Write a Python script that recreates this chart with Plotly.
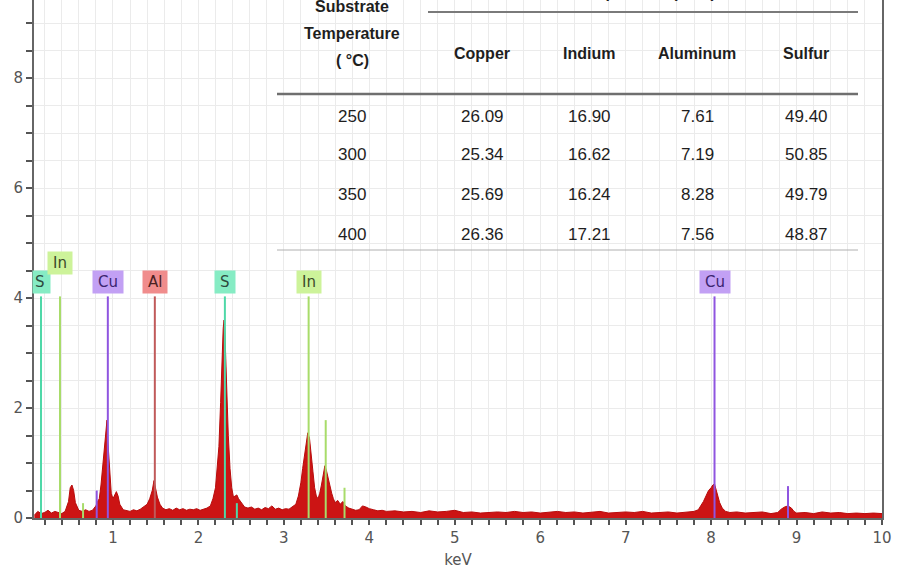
import plotly.graph_objects as go

# ---------------- data ----------------
energy_kev = [
    0.08, 0.12, 0.16, 0.20, 0.24, 0.28, 0.32, 0.36, 0.40, 0.44, 0.48, 0.50, 0.52, 0.54, 0.56,
    0.60, 0.64, 0.68, 0.72, 0.76, 0.80, 0.82, 0.84, 0.86, 0.88, 0.90, 0.92, 0.93, 0.94, 0.96,
    0.98, 1.00, 1.02, 1.04, 1.06, 1.08, 1.12, 1.16, 1.20, 1.24, 1.28, 1.32, 1.36, 1.40, 1.43,
    1.46, 1.48, 1.50, 1.52, 1.55, 1.58, 1.62, 1.66, 1.70, 1.74, 1.78, 1.82, 1.86, 1.90, 1.94,
    1.98, 2.02, 2.06, 2.10, 2.14, 2.17, 2.20, 2.22, 2.24, 2.26, 2.27, 2.28, 2.29, 2.30, 2.31,
    2.32, 2.33, 2.34, 2.35, 2.37, 2.39, 2.41, 2.43, 2.45, 2.47, 2.50, 2.54, 2.58, 2.62, 2.66,
    2.70, 2.74, 2.78, 2.82, 2.86, 2.90, 2.94, 2.98, 3.02, 3.06, 3.10, 3.14, 3.17, 3.20, 3.22,
    3.24, 3.26, 3.28, 3.30, 3.32, 3.34, 3.36, 3.38, 3.40, 3.42, 3.44, 3.46, 3.48, 3.50, 3.52,
    3.54, 3.56, 3.58, 3.60, 3.63, 3.66, 3.69, 3.72, 3.76, 3.80, 3.84, 3.88, 3.92, 3.96, 4.00,
    4.05, 4.10, 4.15, 4.20, 4.30, 4.40, 4.50, 4.60, 4.70, 4.80, 4.90, 5.00, 5.10, 5.20, 5.30,
    5.40, 5.50, 5.60, 5.70, 5.80, 5.90, 6.00, 6.10, 6.20, 6.30, 6.40, 6.50, 6.60, 6.70, 6.80,
    6.90, 7.00, 7.10, 7.20, 7.30, 7.40, 7.50, 7.60, 7.70, 7.80, 7.85, 7.88, 7.91, 7.94, 7.97,
    8.00, 8.02, 8.04, 8.06, 8.08, 8.10, 8.13, 8.17, 8.22, 8.30, 8.40, 8.50, 8.60, 8.70, 8.78,
    8.82, 8.86, 8.90, 8.94, 8.97, 9.00, 9.10, 9.20, 9.30, 9.40, 9.50, 9.60, 9.70, 9.80, 9.90,
    10.00,
]
counts = [
    0.05, 0.12, 0.08, 0.10, 0.14, 0.09, 0.12, 0.10, 0.08, 0.12, 0.30, 0.55, 0.60, 0.50, 0.28,
    0.14, 0.12, 0.15, 0.12, 0.14, 0.22, 0.30, 0.35, 0.60, 0.95, 1.25, 1.55, 1.78, 1.40, 0.90,
    0.45, 0.35, 0.42, 0.48, 0.40, 0.25, 0.15, 0.14, 0.12, 0.15, 0.13, 0.16, 0.20, 0.25, 0.35,
    0.50, 0.68, 0.55, 0.38, 0.25, 0.18, 0.15, 0.17, 0.14, 0.18, 0.15, 0.17, 0.14, 0.16, 0.15,
    0.17, 0.14, 0.16, 0.18, 0.22, 0.35, 0.55, 0.90, 1.30, 2.10, 2.60, 3.10, 3.45, 3.60, 3.40,
    2.90, 2.40, 2.00, 1.50, 0.90, 0.55, 0.38, 0.40, 0.42, 0.35, 0.28, 0.20, 0.18, 0.20, 0.16,
    0.18, 0.15, 0.19, 0.17, 0.22, 0.16, 0.18, 0.15, 0.17, 0.16, 0.20, 0.25, 0.40, 0.65, 0.90,
    1.15, 1.40, 1.55, 1.45, 1.20, 0.85, 0.55, 0.40, 0.35, 0.45, 0.60, 0.80, 0.95, 0.85, 0.70,
    0.55, 0.45, 0.35, 0.28, 0.32, 0.25, 0.30, 0.22, 0.18, 0.16, 0.14, 0.15, 0.22, 0.20, 0.17,
    0.15, 0.13, 0.14, 0.12, 0.13, 0.11, 0.12, 0.10, 0.13, 0.11, 0.12, 0.14, 0.10, 0.11, 0.09,
    0.10, 0.11, 0.10, 0.12, 0.10, 0.11, 0.09, 0.10, 0.12, 0.10, 0.11, 0.09, 0.10, 0.12, 0.09,
    0.10, 0.11, 0.10, 0.12, 0.09, 0.10, 0.11, 0.09, 0.10, 0.12, 0.15, 0.22, 0.30, 0.40, 0.50,
    0.55, 0.60, 0.62, 0.50, 0.40, 0.28, 0.18, 0.12, 0.10, 0.11, 0.09, 0.10, 0.11, 0.08, 0.10,
    0.16, 0.20, 0.22, 0.18, 0.12, 0.09, 0.10, 0.08, 0.11, 0.09, 0.10, 0.08, 0.09, 0.08, 0.09,
    0.08,
]

# element marker lines (labelled)
marker_elements = ["S", "In", "Cu", "Al", "S", "In", "Cu"]
marker_energy = [0.158, 0.38, 0.94, 1.49, 2.31, 3.29, 8.04]
marker_height = [4.03, 4.03, 4.03, 4.03, 4.03, 4.03, 4.03]
marker_label_level = [4.29, 4.64, 4.29, 4.29, 4.29, 4.29, 4.29]

# secondary (unlabelled) lines
minor_elements = ["Cu", "In", "S", "In", "In", "Cu"]
minor_energy = [0.81, 0.65, 2.45, 3.49, 3.71, 8.90]
minor_height = [0.50, 0.27, 0.27, 1.78, 0.55, 0.58]

# table
table_temps = ["250", "300", "350", "400"]
table_columns = ["Copper", "Indium", "Aluminum", "Sulfur"]
copper = ["26.09", "25.34", "25.69", "26.36"]
indium = ["16.90", "16.62", "16.24", "17.21"]
aluminum = ["7.61", "7.19", "8.28", "7.56"]
sulfur = ["49.40", "50.85", "49.79", "48.87"]

# ---------------- styles ----------------
line_colors = {"S": "#4fd8a8", "In": "#a8dc6a", "Cu": "#8f55e0", "Al": "#c05a5a"}
box_colors = {"S": "#86ecc4", "In": "#cdf39a", "Cu": "#c2a0f4", "Al": "#f08c8c"}
text_colors = {"S": "#2e4a3e", "In": "#3c4a2a", "Cu": "#3b2470", "Al": "#4a2222"}

W, H = 898, 572
L, R, T, B = 34, 16, 0, 54
PW, PH = W - L - R, H - T - B


def px(x):
    return (x - L) / PW


def py(y):
    return (H - B - y) / PH


fig = go.Figure()

fig.add_trace(go.Scatter(
    x=energy_kev, y=counts, mode="lines", fill="tozeroy",
    line=dict(color="#b80c0c", width=1), fillcolor="#cc1414",
    hoverinfo="skip", showlegend=False,
))

for el, e, h in zip(minor_elements, minor_energy, minor_height):
    fig.add_trace(go.Scatter(x=[e, e], y=[0, h], mode="lines",
                             line=dict(color=line_colors[el], width=2),
                             hoverinfo="skip", showlegend=False))

for el, e, h in zip(marker_elements, marker_energy, marker_height):
    fig.add_trace(go.Scatter(x=[e, e], y=[0, h], mode="lines",
                             line=dict(color=line_colors[el], width=2),
                             hoverinfo="skip", showlegend=False))

annotations = []
for i, (el, e, lv) in enumerate(zip(marker_elements, marker_energy, marker_label_level)):
    label = f"&#8201;{el}&#8201;" if i > 0 else f"{el}&#8201;"
    annotations.append(dict(
        x=e, y=lv, xref="x", yref="y", text=label, showarrow=False,
        xanchor="center", yanchor="middle",
        font=dict(family="DejaVu Sans", size=15, color=text_colors[el]),
        bgcolor=box_colors[el], borderpad=2,
    ))


def table_text(x, y, text, size):
    return dict(x=px(x), y=py(y), xref="paper", yref="paper", text=text,
                showarrow=False, xanchor="center", yanchor="middle",
                font=dict(family="Liberation Sans, Arial, sans-serif", size=size,
                          color="#1e1e1e"))


col_x = [352, 482, 589, 697, 806]
row_y = [116, 155, 194, 234]
annotations.append(table_text(643, -8, "<b>Composition (at.%)</b>", 16))
for txt, yy in zip(["Substrate", "Temperature", "( °C)"], [7, 34, 61]):
    annotations.append(table_text(352, yy, f"<b>{txt}</b>", 16))
for name, xx in zip(table_columns, col_x[1:]):
    annotations.append(table_text(xx, 53, f"<b>{name}</b>", 16))
for i, yy in enumerate(row_y):
    row = [table_temps[i], copper[i], indium[i], aluminum[i], sulfur[i]]
    for val, xx in zip(row, col_x):
        annotations.append(table_text(xx, yy, val, 17))

shapes = [
    dict(type="line", xref="paper", yref="paper", x0=px(428), x1=px(858),
         y0=py(12), y1=py(12), line=dict(color="#7a7a7a", width=2)),
    dict(type="line", xref="paper", yref="paper", x0=px(277), x1=px(858),
         y0=py(94), y1=py(94), line=dict(color="#6f6f6f", width=2.5)),
    dict(type="line", xref="paper", yref="paper", x0=px(277), x1=px(858),
         y0=py(250), y1=py(250), line=dict(color="#b0b0b0", width=1)),
]

axis_font = dict(family="DejaVu Sans", size=15, color="#555")
fig.update_layout(
    width=W, height=H,
    margin=dict(l=L, r=R, t=T, b=B),
    paper_bgcolor="white", plot_bgcolor="white",
    showlegend=False,
    annotations=annotations, shapes=shapes,
    xaxis=dict(
        range=[0.076, 10.0], tickmode="array", tickvals=list(range(1, 11)),
        ticks="outside", ticklen=5, tickwidth=1.5, tickcolor="#555",
        showline=True, linecolor="#666", linewidth=2,
        showgrid=True, gridcolor="#ebebeb", gridwidth=1,
        minor=dict(dtick=0.2, tick0=0, ticks="outside", ticklen=5, tickcolor="#555",
                   showgrid=True, gridcolor="#ebebeb"),
        tickfont=axis_font, zeroline=False,
        title=dict(text="keV", font=axis_font, standoff=8),
    ),
    yaxis=dict(
        range=[0, 9.42], tickmode="array", tickvals=[0, 2, 4, 6, 8],
        ticks="outside", ticklen=6, tickwidth=1.5, tickcolor="#555",
        showline=True, linecolor="#666", linewidth=2, mirror=True,
        showgrid=True, gridcolor="#ebebeb", gridwidth=1,
        minor=dict(dtick=0.5, tick0=0, ticks="outside", ticklen=6, tickcolor="#555",
                   showgrid=True, gridcolor="#ebebeb"),
        tickfont=axis_font, zeroline=False,
    ),
)

fig.write_html("out.html")
